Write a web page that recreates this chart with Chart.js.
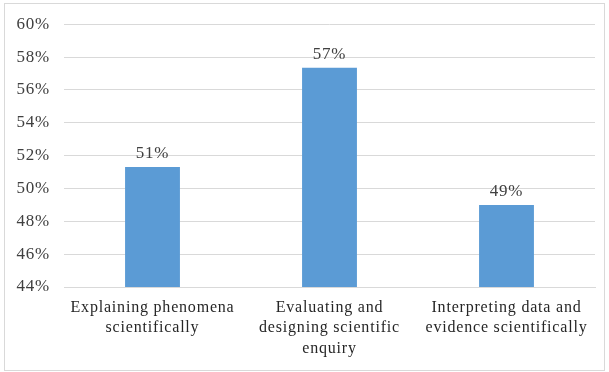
<!DOCTYPE html>
<html>
<head>
<meta charset="utf-8">
<script src="https://cdn.jsdelivr.net/npm/chart.js@4/dist/chart.umd.min.js"></script>
<style>
  body { margin: 0; background: #fff; }
  #wrap { position: relative; width: 609px; height: 372px; }
</style>
</head>
<body>
<div id="wrap"><canvas id="chart" width="609" height="372"></canvas></div>
<script>
// categories (x axis, wrapped into lines)
const categories = [
  ["Explaining phenomena", "scientifically"],
  ["Evaluating and", "designing scientific", "enquiry"],
  ["Interpreting data and", "evidence scientifically"]
];
// percentage scores per competency
const scores = [51.3, 57.35, 49.0];
// labels printed above the bars
const scoreLabels = ["51%", "57%", "49%"];

// the reference text is a bit wider than Liberation Serif, so space the letters out
const spacing = {
  id: "spacing",
  beforeUpdate(chart) { chart.ctx.letterSpacing = "0.8px"; },
  beforeDraw(chart) { chart.ctx.letterSpacing = "0.8px"; }
};

// outer frame around the whole chart
const framePlugin = {
  id: "frame",
  beforeDraw(chart) {
    const ctx = chart.ctx;
    ctx.save();
    ctx.fillStyle = "#fff";
    ctx.fillRect(0, 0, chart.width, chart.height);
    ctx.strokeStyle = "#d9d9d9";
    ctx.lineWidth = 1;
    ctx.strokeRect(4.5, 3.5, 600, 367);
    ctx.restore();
  }
};

// value labels above each bar
const valueLabels = {
  id: "valueLabels",
  afterDatasetsDraw(chart) {
    const ctx = chart.ctx;
    const meta = chart.getDatasetMeta(0);
    ctx.save();
    ctx.font = "17px 'Liberation Serif'";
    ctx.fillStyle = "#404040";
    ctx.textAlign = "center";
    ctx.textBaseline = "bottom";
    meta.data.forEach((bar, i) => {
      ctx.fillText(scoreLabels[i], bar.x, bar.y - 5);
    });
    ctx.restore();
  }
};

const ctx = document.getElementById("chart").getContext("2d");
new Chart(ctx, {
  type: "bar",
  data: {
    labels: categories,
    datasets: [
      {
        data: scores,
        backgroundColor: "#5b9bd5",
        borderWidth: 0,
        barPercentage: 0.62,
        categoryPercentage: 0.5,
      },
    ],
  },
  options: {
    responsive: false,
    animation: false,
    layout: {
      padding: { top: 24, right: 14, bottom: 0, left: 0 },
    },
    plugins: {
      legend: { display: false },
      tooltip: { enabled: false },
    },
    scales: {
      x: {
        grid: { display: false, drawTicks: false },
        border: { color: "#d9d9d9" },
        ticks: {
          color: "#262626",
          font: { family: "'Liberation Serif'", size: 16, lineHeight: 1.3 },
          padding: 10,
          maxRotation: 0,
          autoSkip: false,
        },
        afterFit(scale) {
          scale.height = 85;
        },
      },
      y: {
        min: 44,
        max: 60,
        grid: { color: "#d9d9d9", drawTicks: false },
        border: { display: false },
        ticks: {
          stepSize: 2,
          color: "#404040",
          font: { family: "'Liberation Serif'", size: 17 },
          padding: 14,
          callback: (v) => v + "%",
        },
        afterFit(scale) {
          scale.width = 64;
        },
      },
    },
  },
  plugins: [spacing, framePlugin, valueLabels],
});
</script>
</body>
</html>
